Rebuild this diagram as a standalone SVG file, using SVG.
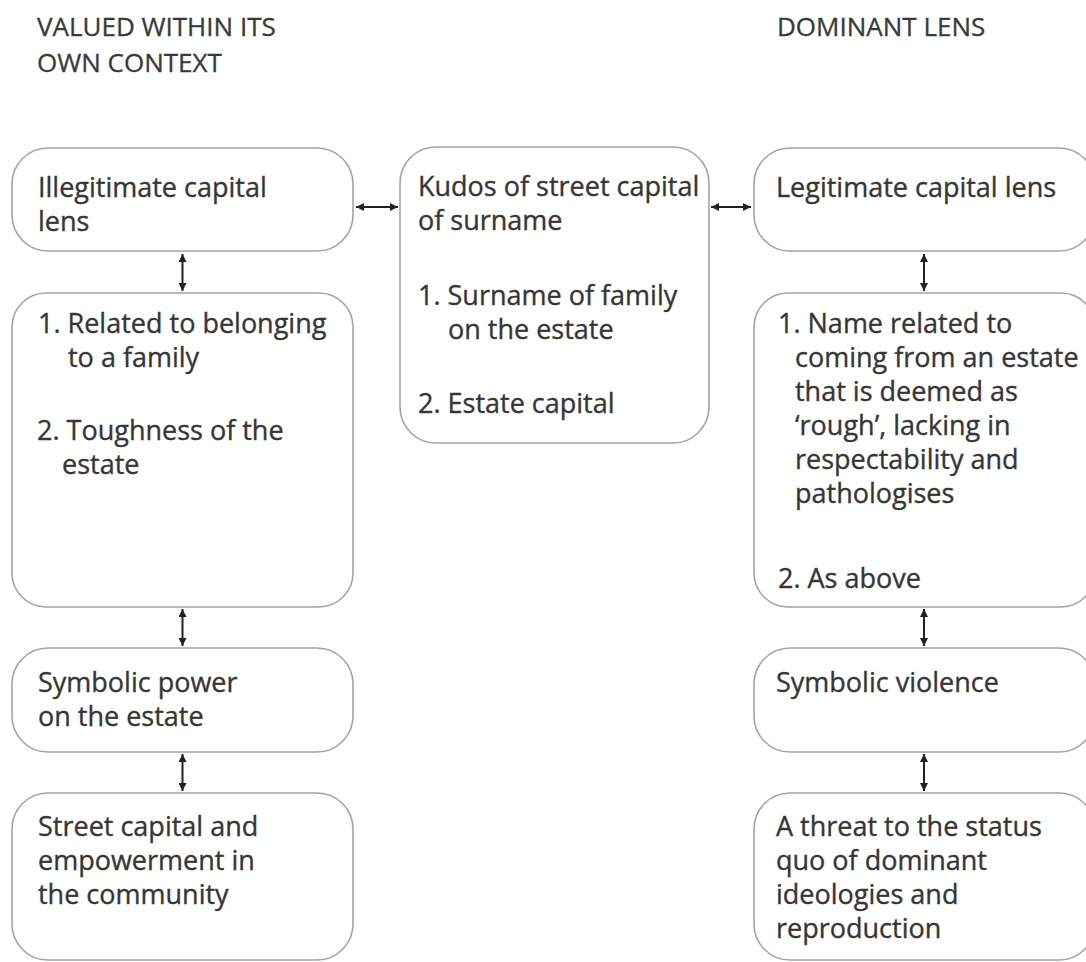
<svg xmlns="http://www.w3.org/2000/svg" width="1086" height="962" viewBox="0 0 1086 962">
<defs>
<style>
.box{fill:#ffffff;stroke:#a3a3a3;stroke-width:1.6}
.t{font-family:"Open Sans","Noto Sans",sans-serif;font-size:27px;fill:#363636;stroke:#363636;stroke-width:0.35}
.h{font-family:"Open Sans","Noto Sans",sans-serif;font-size:26px;fill:#3a3a3a;stroke:#3a3a3a;stroke-width:0.3}
.arr{stroke:#222222;stroke-width:2;fill:none;marker-start:url(#ah);marker-end:url(#ah)}
</style>
<marker id="ah" viewBox="0 0 10 10" refX="10" refY="5" markerWidth="9" markerHeight="8" markerUnits="userSpaceOnUse" orient="auto-start-reverse">
<path d="M0,0 L10,5 L0,10 z" fill="#222222"/>
</marker>
</defs>
<rect width="1086" height="962" fill="#ffffff"/>
<g id="titles">
<text class="h" x="37" y="36">VALUED WITHIN ITS</text>
<text class="h" x="37" y="72">OWN CONTEXT</text>
<text class="h" x="777" y="36">DOMINANT LENS</text>
</g>
<g id="connectors">
<line class="arr" x1="356" y1="207" x2="398" y2="207"/>
<line class="arr" x1="711" y1="207" x2="751" y2="207"/>
<line class="arr" x1="182.5" y1="254" x2="182.5" y2="291"/>
<line class="arr" x1="182.5" y1="609" x2="182.5" y2="646"/>
<line class="arr" x1="182.5" y1="754" x2="182.5" y2="791"/>
<line class="arr" x1="924" y1="254" x2="924" y2="291"/>
<line class="arr" x1="924" y1="609" x2="924" y2="646"/>
<line class="arr" x1="924" y1="754" x2="924" y2="791"/>
<line class="arr" x1="547" y1="347" x2="547" y2="385"/>
</g>
<g id="node-illegitimate">
<rect class="box" x="12" y="148" width="341" height="103" rx="36"/>
<text class="t" x="38" y="197">Illegitimate capital</text>
<text class="t" x="38" y="231">lens</text>
</g>
<g id="node-left-items">
<rect class="box" x="12" y="293" width="341" height="314" rx="34"/>
<text class="t" x="38" y="333">1. Related to belonging</text>
<text class="t" x="68" y="367">to a family</text>
<text class="t" x="37" y="440">2. Toughness of the</text>
<text class="t" x="62" y="474">estate</text>
</g>
<g id="node-symbolic-power">
<rect class="box" x="12" y="648" width="341" height="104" rx="36"/>
<text class="t" x="38" y="692">Symbolic power</text>
<text class="t" x="38" y="726">on the estate</text>
</g>
<g id="node-street-capital">
<rect class="box" x="12" y="793" width="341" height="167" rx="36"/>
<text class="t" x="38" y="836">Street capital and</text>
<text class="t" x="38" y="870">empowerment in</text>
<text class="t" x="38" y="904">the community</text>
</g>
<g id="node-kudos">
<rect class="box" x="400" y="147" width="309" height="296" rx="36"/>
<text class="t" x="418" y="196">Kudos of street capital</text>
<text class="t" x="418" y="230">of surname</text>
<text class="t" x="418" y="305">1. Surname of family</text>
<text class="t" x="448" y="339">on the estate</text>
<text class="t" x="418" y="413">2. Estate capital</text>
</g>
<g id="node-legitimate">
<rect class="box" x="754" y="148" width="341" height="103" rx="36"/>
<text class="t" x="776" y="197">Legitimate capital lens</text>
</g>
<g id="node-right-items">
<rect class="box" x="754" y="293" width="341" height="314" rx="34"/>
<text class="t" x="778" y="333">1. Name related to</text>
<text class="t" x="795" y="367">coming from an estate</text>
<text class="t" x="795" y="401">that is deemed as</text>
<text class="t" x="795" y="435">‘rough’, lacking in</text>
<text class="t" x="795" y="469">respectability and</text>
<text class="t" x="795" y="503">pathologises</text>
<text class="t" x="778" y="588">2. As above</text>
</g>
<g id="node-symbolic-violence">
<rect class="box" x="754" y="648" width="341" height="104" rx="36"/>
<text class="t" x="776" y="692">Symbolic violence</text>
</g>
<g id="node-threat">
<rect class="box" x="754" y="793" width="341" height="167" rx="36"/>
<text class="t" x="776" y="836">A threat to the status</text>
<text class="t" x="776" y="870">quo of dominant</text>
<text class="t" x="776" y="904">ideologies and</text>
<text class="t" x="776" y="938">reproduction</text>
</g>
</svg>
